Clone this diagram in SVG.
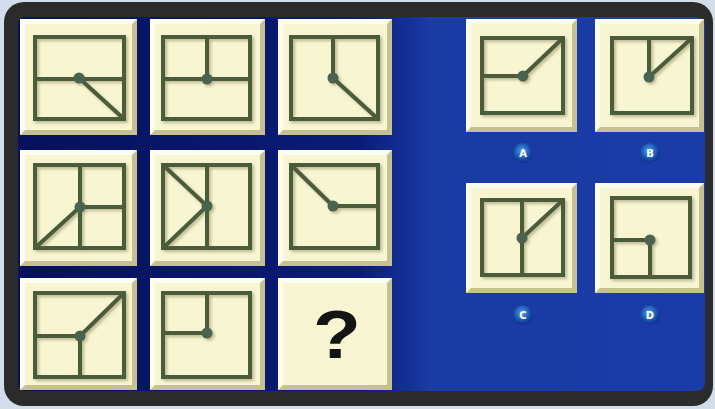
<svg xmlns="http://www.w3.org/2000/svg" width="715" height="409" viewBox="0 0 715 409">
<defs>
<linearGradient id="bg" x1="0" y1="0" x2="1" y2="0">
<stop offset="0" stop-color="#06115a"/>
<stop offset="0.5" stop-color="#0a1c78"/>
<stop offset="0.6" stop-color="#1a3aa4"/>
<stop offset="0.75" stop-color="#1a3aa4"/>
<stop offset="1" stop-color="#1b3ca8"/>
</linearGradient>
<radialGradient id="lab" cx="0.45" cy="0.4" r="0.6">
<stop offset="0" stop-color="#5aa0e0"/>
<stop offset="0.6" stop-color="#1a5ab8"/>
<stop offset="1" stop-color="#0a2a80" stop-opacity="0.6"/>
</radialGradient>
<filter id="sh" x="-10%" y="-10%" width="130%" height="130%">
<feDropShadow dx="2" dy="2" stdDeviation="1.5" flood-color="#8a8660" flood-opacity="0.55"/>
</filter>
</defs>
<style>
.tile{fill:#f8f6d2}
.hi{fill:#fefef0}
.lo{fill:#c6c195}
.fig{fill:none;stroke:#4b5b3b;stroke-width:4;stroke-linejoin:miter}
.dot{fill:#4a6450}
.lt{font-family:"DejaVu Sans",sans-serif;font-weight:bold;font-size:10px;fill:#ffffff}
</style>
<rect x="0" y="0" width="715" height="409" fill="#d2dde9"/>
<rect x="4" y="2" width="709" height="404" rx="20" fill="#2b2b2b"/>
<rect x="18" y="17" width="687" height="374" rx="8" fill="url(#bg)"/>

<g id="t1">
<rect class="tile" x="20" y="19" width="117" height="116"/>
<path class="hi" d="M20,19H137L132,24H25V130L20,135Z"/>
<path class="lo" d="M137,19V135H20L25,130H132V24Z"/>
<g filter="url(#sh)">
<rect class="fig" x="35" y="37" width="89" height="82"/>
<path class="fig" d="M35,79H124M79,78L124,119"/>
<circle class="dot" cx="79" cy="78" r="5.5"/>
</g>
</g>
<g id="t2">
<rect class="tile" x="150" y="19" width="115" height="116"/>
<path class="hi" d="M150,19H265L260,24H155V130L150,135Z"/>
<path class="lo" d="M265,19V135H150L155,130H260V24Z"/>
<g filter="url(#sh)">
<rect class="fig" x="163" y="37" width="87" height="82"/>
<path class="fig" d="M163,79H250M207,37V79"/>
<circle class="dot" cx="207" cy="79" r="5.5"/>
</g>
</g>
<g id="t3">
<rect class="tile" x="278" y="19" width="114" height="116"/>
<path class="hi" d="M278,19H392L387,24H283V130L278,135Z"/>
<path class="lo" d="M392,19V135H278L283,130H387V24Z"/>
<g filter="url(#sh)">
<rect class="fig" x="291" y="37" width="87" height="82"/>
<path class="fig" d="M333,37V78L378,119"/>
<circle class="dot" cx="333" cy="78" r="5.5"/>
</g>
</g>
<g id="t4">
<rect class="tile" x="20" y="150" width="117" height="116"/>
<path class="hi" d="M20,150H137L132,155H25V261L20,266Z"/>
<path class="lo" d="M137,150V266H20L25,261H132V155Z"/>
<g filter="url(#sh)">
<rect class="fig" x="35" y="165" width="89" height="83"/>
<path class="fig" d="M80,165V248M80,207H124M35,248L80,207"/>
<circle class="dot" cx="80" cy="207" r="5.5"/>
</g>
</g>
<g id="t5">
<rect class="tile" x="150" y="150" width="115" height="116"/>
<path class="hi" d="M150,150H265L260,155H155V261L150,266Z"/>
<path class="lo" d="M265,150V266H150L155,261H260V155Z"/>
<g filter="url(#sh)">
<rect class="fig" x="163" y="165" width="87" height="83"/>
<path class="fig" d="M207,165V248M163,165L207,206L163,248"/>
<circle class="dot" cx="207" cy="206" r="5.5"/>
</g>
</g>
<g id="t6">
<rect class="tile" x="278" y="150" width="114" height="116"/>
<path class="hi" d="M278,150H392L387,155H283V261L278,266Z"/>
<path class="lo" d="M392,150V266H278L283,261H387V155Z"/>
<g filter="url(#sh)">
<rect class="fig" x="291" y="165" width="87" height="83"/>
<path class="fig" d="M291,165L333,206H378"/>
<circle class="dot" cx="333" cy="206" r="5.5"/>
</g>
</g>
<g id="t7">
<rect class="tile" x="20" y="278" width="117" height="112"/>
<path class="hi" d="M20,278H137L132,283H25V385L20,390Z"/>
<path class="lo" d="M137,278V390H20L25,385H132V283Z"/>
<g filter="url(#sh)">
<rect class="fig" x="35" y="293" width="89" height="84"/>
<path class="fig" d="M35,336H80V377M80,336L124,293"/>
<circle class="dot" cx="80" cy="336" r="5.5"/>
</g>
</g>
<g id="t8">
<rect class="tile" x="150" y="278" width="115" height="112"/>
<path class="hi" d="M150,278H265L260,283H155V385L150,390Z"/>
<path class="lo" d="M265,278V390H150L155,385H260V283Z"/>
<g filter="url(#sh)">
<rect class="fig" x="163" y="293" width="87" height="84"/>
<path class="fig" d="M207,293V333H163"/>
<circle class="dot" cx="207" cy="333" r="5.5"/>
</g>
</g>
<g id="t9">
<rect class="tile" x="278" y="278" width="114" height="112"/>
<path class="hi" d="M278,278H392L387,283H283V385L278,390Z"/>
<path class="lo" d="M392,278V390H278L283,385H387V283Z"/>
<text transform="translate(337,358) scale(1.15,1)" text-anchor="middle" font-family="Liberation Sans, sans-serif" font-weight="bold" font-size="68" fill="#141414">?</text>
</g>

<g id="optA">
<rect class="tile" x="466" y="19" width="111" height="113"/>
<path class="hi" d="M466,19H577L572,24H471V127L466,132Z"/>
<path class="lo" d="M577,19V132H466L471,127H572V24Z"/>
<g filter="url(#sh)">
<rect class="fig" x="482" y="38" width="81" height="75"/>
<path class="fig" d="M482,76H523L563,38"/>
<circle class="dot" cx="523" cy="76" r="5.5"/>
</g>
<circle cx="523" cy="153" r="10" fill="url(#lab)"/>
<text class="lt" x="523" y="157" text-anchor="middle">A</text>
</g>
<g id="optB">
<rect class="tile" x="595" y="19" width="109" height="113"/>
<path class="hi" d="M595,19H704L699,24H600V127L595,132Z"/>
<path class="lo" d="M704,19V132H595L600,127H699V24Z"/>
<g filter="url(#sh)">
<rect class="fig" x="612" y="38" width="80" height="75"/>
<path class="fig" d="M649,38V77L692,38"/>
<circle class="dot" cx="649" cy="77" r="5.5"/>
</g>
<circle cx="650" cy="153" r="10" fill="url(#lab)"/>
<text class="lt" x="650" y="157" text-anchor="middle">B</text>
</g>
<g id="optC">
<rect class="tile" x="466" y="183" width="111" height="110"/>
<path class="hi" d="M466,183H577L572,188H471V288L466,293Z"/>
<path class="lo" d="M577,183V293H466L471,288H572V188Z"/>
<g filter="url(#sh)">
<rect class="fig" x="482" y="200" width="81" height="75"/>
<path class="fig" d="M522,200V275M522,238L563,200"/>
<circle class="dot" cx="522" cy="238" r="5.5"/>
</g>
<circle cx="523" cy="315" r="10" fill="url(#lab)"/>
<text class="lt" x="523" y="319" text-anchor="middle">C</text>
</g>
<g id="optD">
<rect class="tile" x="595" y="183" width="109" height="110"/>
<path class="hi" d="M595,183H704L699,188H600V288L595,293Z"/>
<path class="lo" d="M704,183V293H595L600,288H699V188Z"/>
<g filter="url(#sh)">
<rect class="fig" x="612" y="198" width="78" height="79"/>
<path class="fig" d="M612,240H650V277"/>
<circle class="dot" cx="650" cy="240" r="5.5"/>
</g>
<circle cx="650" cy="315" r="10" fill="url(#lab)"/>
<text class="lt" x="650" y="319" text-anchor="middle">D</text>
</g>
<g id="connectors"/>
</svg>
